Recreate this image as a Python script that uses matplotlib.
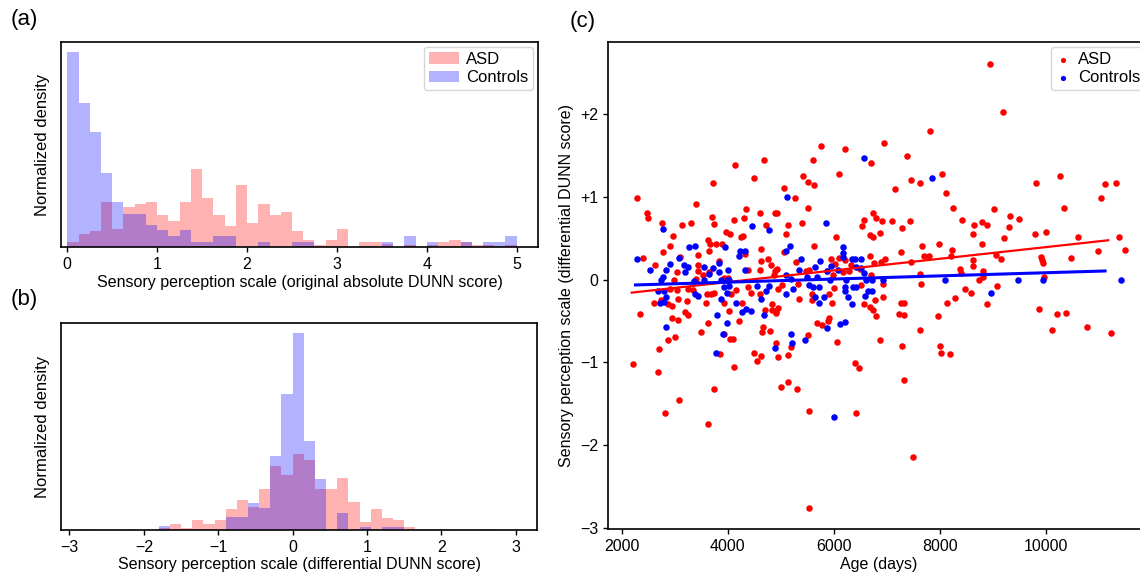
import matplotlib
matplotlib.use("Agg")
import matplotlib.pyplot as plt
import numpy as np

plt.rcParams['font.family'] = ['Liberation Sans', 'DejaVu Sans']

# (a) histogram of absolute DUNN score, 40 bins of 0.125 on [0, 5]
abs_edges = np.linspace(0, 5, 41)
abs_asd = [0.050, 0.125, 0.155, 0.452, 0.182, 0.403, 0.429, 0.452, 0.320, 0.264,
           0.452, 0.779, 0.485, 0.320, 0.211, 0.620, 0.238, 0.429, 0.320, 0.347,
           0.155, 0.073, 0.020, 0.073, 0.182, 0.000, 0.050, 0.050, 0.026, 0.000,
           0.023, 0.000, 0.023, 0.050, 0.073, 0.050, 0.023, 0.023, 0.000, 0.023]
abs_ctrl = [1.947, 1.432, 1.145, 0.739, 0.452, 0.330, 0.330, 0.221, 0.165, 0.106,
            0.165, 0.050, 0.050, 0.106, 0.106, 0.000, 0.000, 0.050, 0.000, 0.000,
            0.050, 0.050, 0.000, 0.000, 0.000, 0.000, 0.000, 0.000, 0.050, 0.000,
            0.106, 0.000, 0.053, 0.000, 0.000, 0.050, 0.000, 0.050, 0.050, 0.106]

# (b) histogram of differential DUNN score, 40 bins of 0.15 on [-3, 3]
diff_edges = np.linspace(-3, 3, 41)
diff_asd = [0.000, 0.013, 0.000, 0.000, 0.000, 0.013, 0.000, 0.000, 0.017, 0.059,
            0.017, 0.099, 0.056, 0.099, 0.208, 0.297, 0.224, 0.406, 0.627, 0.538,
            0.752, 0.690, 0.406, 0.406, 0.515, 0.274, 0.079, 0.208, 0.119, 0.099,
            0.033, 0.013, 0.013, 0.013, 0.000, 0.000, 0.000, 0.013, 0.000, 0.000]
diff_ctrl = [0.000, 0.000, 0.000, 0.000, 0.000, 0.000, 0.000, 0.000, 0.040, 0.000,
             0.000, 0.000, 0.000, 0.000, 0.132, 0.132, 0.264, 0.215, 0.733, 1.337,
             1.940, 0.871, 0.502, 0.000, 0.172, 0.000, 0.033, 0.000, 0.033, 0.033,
             0.000, 0.000, 0.000, 0.000, 0.000, 0.000, 0.000, 0.000, 0.000, 0.000]

# (c) age (days) vs differential score
asd_age = [2283, 4136, 4689, 3728, 4500, 5053, 3395, 2477, 2503, 2754, 3131, 3307, 3709, 3734,
           4124, 4299, 4337, 4601, 4896, 4934, 4727, 2974, 2905, 2785, 3445, 3621, 3671, 3778,
           3891, 3960, 4048, 4249, 4281, 4632, 4331, 3652, 5066, 2408, 2622, 3093, 3049, 2980,
           3432, 3445, 3539, 3652, 3841, 4620, 4764, 4815, 4614, 4890, 4921, 4375, 3401, 3935,
           4004, 4878,
           7806, 6945, 5752, 6204, 5613, 6694, 7385, 6103, 5419, 5513, 5632, 7146, 7448, 7630,
           8032, 8120, 5274, 5519, 8240, 8409, 5393, 5142, 5098, 6732, 6801, 6901, 6575, 6531,
           7090, 7429, 7291, 6675, 6738, 6864, 6034, 5632, 7655, 7988, 8221, 7272, 7693, 7787,
           8208, 8372, 8390, 7448, 7624, 5280, 5475, 5532, 5940, 6091, 6015, 6210, 6172, 6286,
           6330, 6493, 6675, 6751, 6889, 6964, 6694, 5877, 5984, 5331, 7649, 6933,
           8949, 9188, 10256, 9804, 11104, 11318, 11035, 10338, 9012, 9313, 9489, 8798, 8886,
           8647, 9295, 8629, 9785, 10005, 9213, 10595, 8798, 11374, 10985, 11487, 9056, 9150,
           9904, 9923, 9935, 10476, 8622, 8622, 8811, 8735, 8811, 9967, 9075,
           2220, 2352, 2691, 2817, 3087, 3621, 3747, 2710, 2867, 3011, 2955, 3062, 2616, 2741,
           2867, 2949, 3055, 3231, 3200, 3257, 3489, 3627, 3590, 3615, 3690, 3734, 3847, 3935,
           4036, 4098, 4124, 4029, 3922, 4054, 4161, 4205, 4268, 4438, 4375, 4488, 4551, 4632,
           4657, 4645, 4708, 4790, 4840, 4834, 4614, 4903, 4909, 4947, 4916, 4947, 4997, 5129,
           3244, 2905, 3043, 3339, 5028, 4953,
           5337, 5588, 5588, 5915, 5959, 6003, 6506, 5682, 5770, 5890, 5902, 5507, 6053, 5186,
           5142, 5299, 6399, 6468, 5532, 6411, 7498, 5538, 6568, 6681, 6744, 6801, 6769, 6933,
           6864, 7278, 7322, 7234, 7316, 7260, 7322, 7630, 7963, 8007, 8013, 8183, 8127, 8290,
           8466,
           8578, 8893, 9873, 10199, 10382, 10111, 10777, 11217]
asd_score = [0.98, 1.38, 1.44, 1.17, 1.23, 1.11, 0.91, 0.80, 0.74, 0.68, 0.66, 0.68, 0.76, 0.67,
             0.72, 0.74, 0.85, 0.81, 0.80, 0.81, 0.66, 0.53, 0.40, 0.33, 0.30, 0.48, 0.43, 0.43,
             0.43, 0.58, 0.55, 0.52, 0.53, 0.37, 0.31, 0.34, 0.33, 0.26, 0.18, 0.27, 0.09, 0.00,
             0.17, 0.10, 0.06, 0.09, 0.22, 0.22, 0.25, 0.18, 0.11, 0.10, 0.13, 0.12, 0.01, 0.02,
             0.02, 0.06,
             1.80, 1.65, 1.61, 1.58, 1.45, 1.41, 1.49, 1.27, 1.25, 1.18, 1.14, 1.10, 1.20, 1.17,
             1.28, 1.05, 0.99, 0.86, 0.87, 0.72, 0.68, 0.66, 0.55, 0.81, 0.74, 0.71, 0.72, 0.65,
             0.71, 0.71, 0.62, 0.54, 0.51, 0.56, 0.51, 0.40, 0.41, 0.43, 0.36, 0.33, 0.28, 0.28,
             0.28, 0.13, 0.08, 0.21, 0.07, 0.21, 0.10, 0.11, 0.25, 0.26, 0.19, 0.24, 0.09, 0.10,
             0.18, 0.13, 0.28, 0.20, 0.21, 0.25, 0.06, 0.10, 0.05, -0.06, -0.06, -0.06,
             2.60, 2.03, 1.25, 1.17, 1.15, 1.17, 0.99, 0.87, 0.85, 0.77, 0.73, 0.70, 0.66,
             0.66, 0.64, 0.55, 0.55, 0.57, 0.50, 0.51, 0.43, 0.51, 0.35, 0.36, 0.30, 0.25,
             0.27, 0.23, 0.20, 0.26, 0.24, 0.16, 0.10, 0.00, 0.03, 0.03, -0.08,
             -1.02, -0.42, -1.12, -1.62, -1.46, -1.75, -1.32, -0.84, -0.73, -0.70, -0.47, -0.49, -0.28, -0.25,
             -0.30, -0.32, -0.23, -0.26, -0.39, -0.43, -0.64, -0.53, -0.28, -0.18, -0.18, -0.16, -0.90, -0.66,
             -0.72, -0.72, -1.06, -0.38, -0.28, -0.17, -0.13, -0.50, -0.28, -0.16, -0.09, -0.89, -0.98, -0.93,
             -0.57, -0.64, -0.37, -0.62, -0.30, -0.37, -0.17, -0.41, -0.38, -0.34, -0.77, -0.94, -1.30, -1.24,
             -0.12, -0.12, -0.13, -0.13, -0.07, -0.12,
             -0.23, -0.18, -0.25, -0.17, -0.29, -0.10, -0.07, -0.52, -0.55, -0.50, -0.47, -0.67, -0.76, -0.82,
             -0.91, -1.32, -1.01, -1.07, -1.59, -1.61, -2.15, -2.76, -0.30, -0.33, -0.37, -0.44, -0.25, -0.21,
             -0.73, -0.80, -1.22, -0.42, -0.43, -0.28, -0.28, -0.61, -0.44, -0.80, -0.89, -0.90, -0.28, -0.22,
             -0.11,
             -0.16, -0.30, -0.36, -0.42, -0.41, -0.61, -0.58, -0.65]

ctrl_age = [2785, 2283, 2528, 2836, 2917, 3080, 3181, 3244, 3194, 3275, 3388, 3558, 3652, 3728,
            3841, 3841, 3941, 4010, 4224, 4318, 4218, 4331, 4450, 4783, 5110, 5097, 2741, 2785,
            3357, 3558, 3872, 3979, 4029, 5104,
            6562, 7844, 5858, 5174, 5375, 5739, 6166, 6179, 6166, 6348, 6392, 6518, 5638, 5343,
            5877, 5953, 6078, 6424, 6506, 6575, 5500, 5689, 5921, 6223, 6612, 6719, 6933, 8089,
            5199,
            9477, 9935, 11406,
            2842, 3784, 3916, 3979, 3790, 4149, 4274, 4343, 4444, 4632, 4689, 4884, 2729, 2804,
            2842, 2792, 3388, 3432, 3872, 3979, 3935, 4029, 4551, 4727, 4777, 5097, 2679,
            5236, 5186, 5205, 5456, 5532, 5607, 5638, 5714, 5727, 5821, 5877, 6122, 6204, 5997,
            6210, 6210, 6260, 6348, 6355, 6418, 6581, 6644, 6719,
            8962]
ctrl_score = [0.61, 0.25, 0.12, 0.11, 0.19, 0.26, 0.18, 0.15, 0.09, 0.39, 0.41, 0.15, 0.07, 0.14,
              0.20, 0.09, 0.39, 0.12, 0.35, 0.35, 0.29, 0.12, 0.65, 0.60, 1.00, 0.35, -0.01, 0.03,
              -0.02, -0.01, -0.01, 0.00, -0.01, 0.05,
              1.47, 1.23, 0.68, 0.41, 0.25, 0.22, 0.39, 0.32, 0.27, 0.25, 0.25, 0.25, 0.15, 0.11,
              0.10, 0.16, 0.12, 0.15, 0.14, 0.08, 0.03, 0.03, 0.00, 0.00, 0.00, 0.00, -0.01, 0.00,
              0.01,
              0.00, -0.01, -0.01,
              -0.57, -0.89, -0.66, -0.53, -0.43, -0.28, -0.39, -0.36, -0.38, -0.24, -0.43, -0.83, -0.29, -0.27,
              -0.21, -0.14, -0.17, -0.20, -0.24, -0.16, -0.09, -0.08, -0.08, -0.14, -0.08, -0.17, -0.14,
              -0.12, -0.66, -0.77, -0.73, -0.07, -0.09, -0.21, -0.09, -0.29, -0.21, -0.59, -0.54, -0.51, -1.66,
              -0.09, -0.14, -0.21, -0.30, -0.09, -0.09, -0.20, -0.14, -0.14,
              -0.16]

# linear fits: slope, intercept, age range
asd_fit = [7.05e-5, -0.313]
asd_fit_range = [2190, 11170]
ctrl_fit = [1.91e-5, -0.109]
ctrl_fit_range = [2260, 11110]

W, H = 1140, 573
fig = plt.figure(figsize=(W / 100, H / 100), dpi=100)
ax_a = fig.add_axes([61 / W, 1 - 247 / H, 477 / W, 205 / H])
ax_b = fig.add_axes([61 / W, 1 - 530 / H, 476 / W, 207 / H])
ax_c = fig.add_axes([608 / W, 1 - 529 / H, 542 / W, 487 / H])

lab_fs = 11.5
tick_fs = 11.5

def centers(edges):
    return (edges[:-1] + edges[1:]) / 2

for ax in (ax_a, ax_b, ax_c):
    for sp in ax.spines.values():
        sp.set_linewidth(1.2)
    ax.tick_params(labelsize=tick_fs, width=1.0, length=3.5)

# (a)
ax_a.hist(centers(abs_edges), bins=abs_edges, weights=abs_asd, color='red', alpha=0.3, label='ASD')
ax_a.hist(centers(abs_edges), bins=abs_edges, weights=abs_ctrl, color='blue', alpha=0.3, label='Controls')
ax_a.set_xlim(-0.07, 5.237)
ax_a.set_yticks([])
ax_a.set_xticks([0, 1, 2, 3, 4, 5])
ax_a.set_xlabel('Sensory perception scale (original absolute DUNN score)', fontsize=lab_fs, labelpad=2)
ax_a.set_ylabel('Normalized density', fontsize=12, labelpad=8)
ax_a.legend(loc='upper right', fontsize=12, handlelength=1.8, handletextpad=0.4,
            borderpad=0.3, labelspacing=0.2, borderaxespad=0.3)

# (b)
ax_b.hist(centers(diff_edges), bins=diff_edges, weights=diff_asd, color='red', alpha=0.3)
ax_b.hist(centers(diff_edges), bins=diff_edges, weights=diff_ctrl, color='blue', alpha=0.3)
ax_b.set_xlim(-3.114, 3.286)
ax_b.set_yticks([])
ax_b.set_xticks([-3, -2, -1, 0, 1, 2, 3])
ax_b.set_xlabel('Sensory perception scale (differential DUNN score)', fontsize=lab_fs, labelpad=2)
ax_b.set_ylabel('Normalized density', fontsize=12, labelpad=8)

# (c)
ax_c.scatter(asd_age, asd_score, s=22, color='#ff0000', linewidths=0, label='ASD')
ax_c.scatter(ctrl_age, ctrl_score, s=22, color='#0000ff', linewidths=0, label='Controls')
xa = np.array(asd_fit_range)
ax_c.plot(xa, asd_fit[0] * xa + asd_fit[1], color='#ff0000', lw=1.6)
xc = np.array(ctrl_fit_range)
ax_c.plot(xc, ctrl_fit[0] * xc + ctrl_fit[1], color='#0000ff', lw=2.2)
ax_c.set_xlim(1742, 11957)
ax_c.set_ylim(-3.017, 2.872)
ax_c.spines['right'].set_visible(False)
ax_c.set_yticks([-3, -2, -1, 0, 1, 2])
ax_c.set_yticklabels(['\u22123', '\u22122', '\u22121', '0', '+1', '+2'])
ax_c.set_xticks([2000, 4000, 6000, 8000, 10000])
ax_c.set_xlabel('Age (days)', fontsize=lab_fs, labelpad=2)
ax_c.set_ylabel('Sensory perception scale (differential DUNN score)', fontsize=lab_fs, labelpad=4)
ax_c.legend(loc='upper right', fontsize=12, handlelength=0.8, handletextpad=0.5,
            borderpad=0.3, labelspacing=0.2, borderaxespad=0.3, scatterpoints=1, markerscale=0.8)

fig.text(24 / W, 1 - 20 / H, '(a)', fontsize=16, ha='center', va='center')
fig.text(24 / W, 1 - 300 / H, '(b)', fontsize=16, ha='center', va='center')
fig.text(583 / W, 1 - 22 / H, '(c)', fontsize=16, ha='center', va='center')

fig.savefig('out.png', dpi=100)
